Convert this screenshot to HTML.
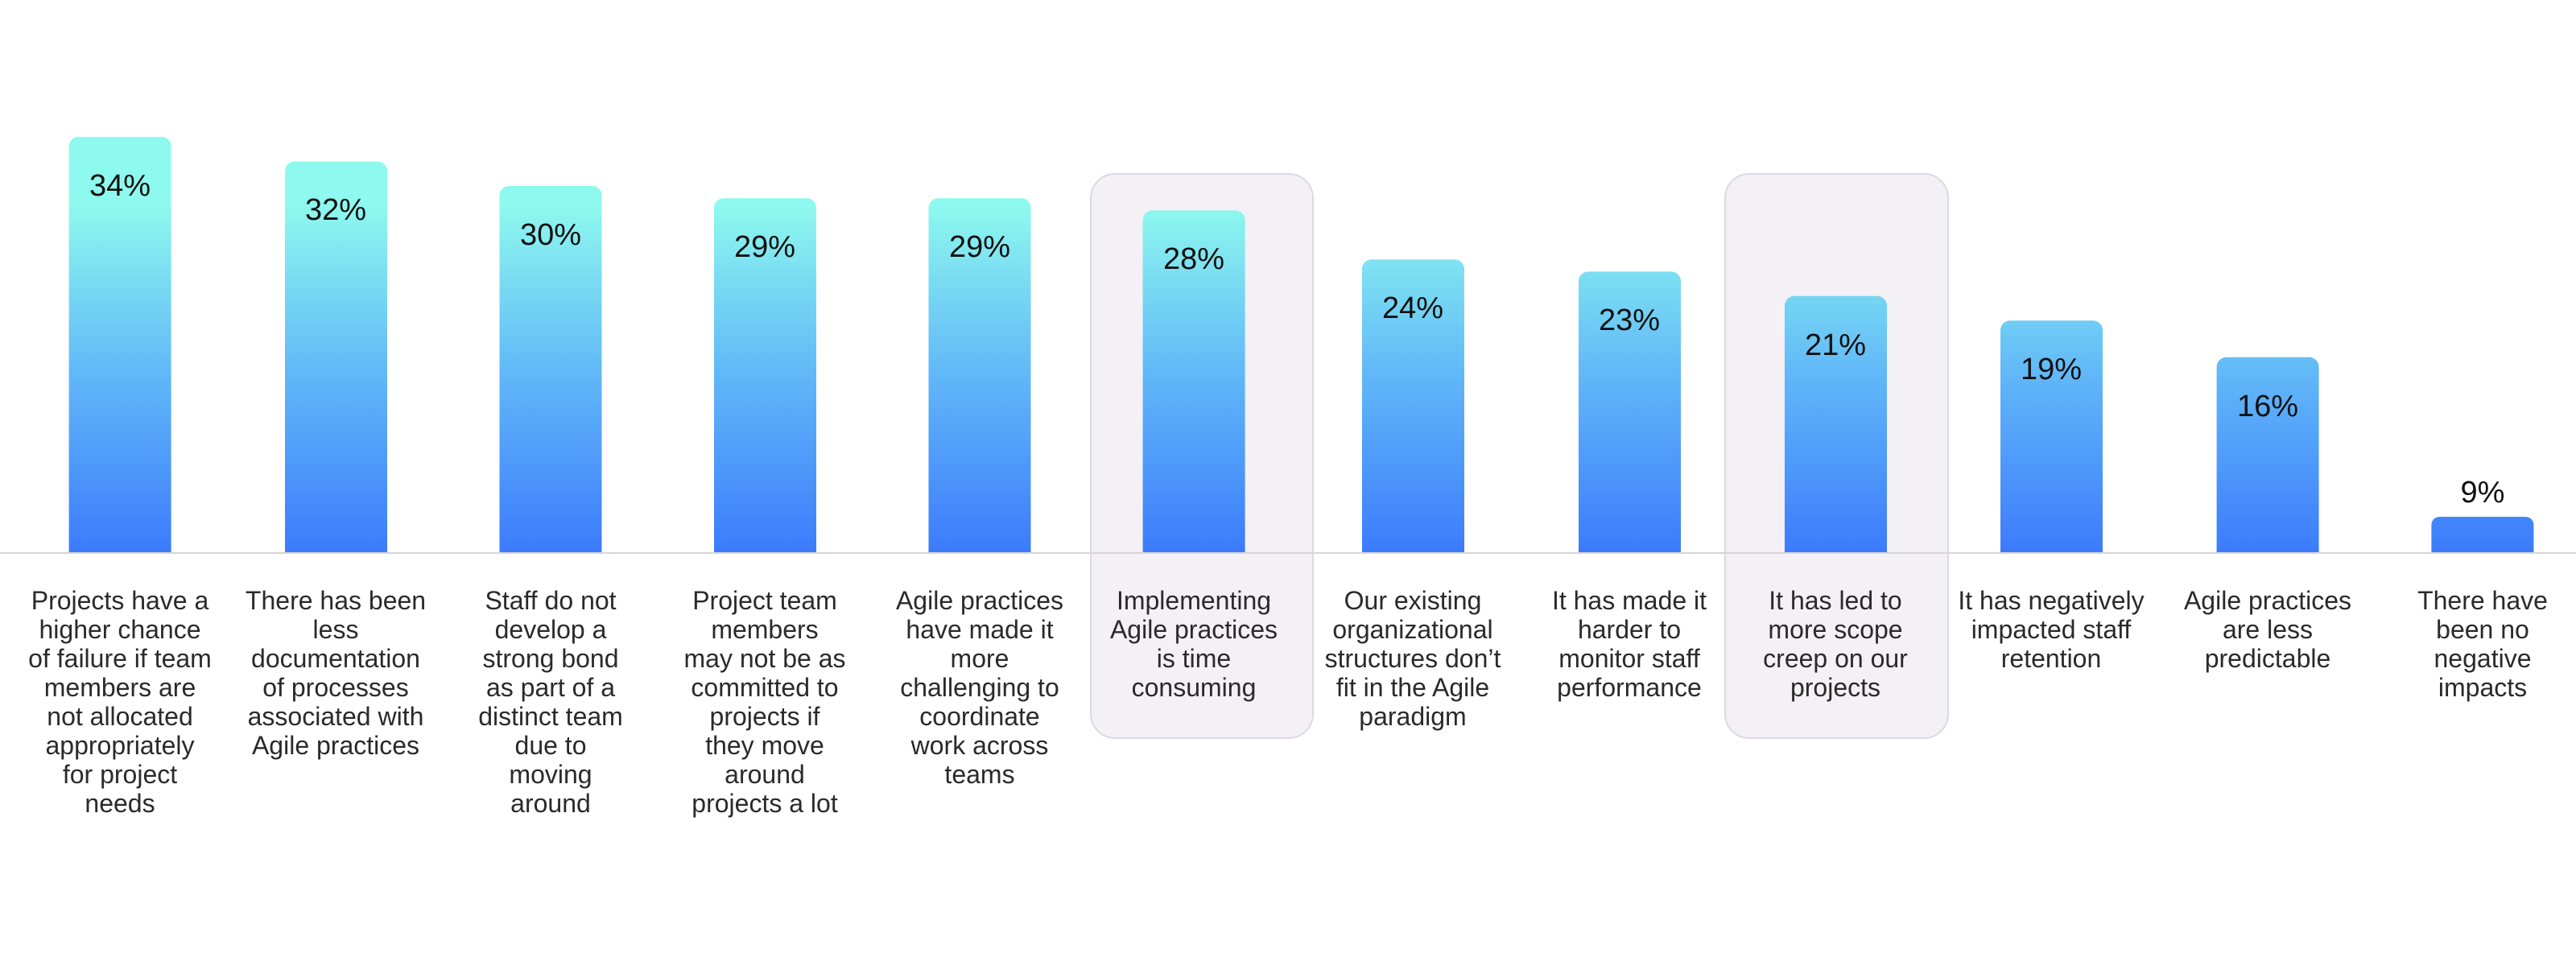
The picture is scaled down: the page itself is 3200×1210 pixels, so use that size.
<!DOCTYPE html>
<html><head><meta charset="utf-8"><style>
html,body{margin:0;padding:0;background:#fff;}
svg{display:block;}
text{font-family:"Liberation Sans",sans-serif;}
</style></head><body>
<svg width="3200" height="1210" viewBox="0 0 3200 1210" xmlns="http://www.w3.org/2000/svg">
<defs>
<linearGradient id="g" gradientUnits="userSpaceOnUse" x1="0" y1="255" x2="0" y2="686">
<stop offset="0" stop-color="#8ef9ee"/>
<stop offset="0.5" stop-color="#60b6f8"/>
<stop offset="1" stop-color="#3c7bfc"/>
</linearGradient>
</defs>
<rect x="1355" y="216" width="276" height="701" rx="30" fill="#f3f0f6" stroke="#ddd8e2" stroke-width="2"/>
<rect x="2143" y="216" width="277" height="701" rx="30" fill="#f3f0f6" stroke="#ddd8e2" stroke-width="2"/>
<line x1="0" y1="687" x2="3200" y2="687" stroke="#d6d6d6" stroke-width="2"/>
<g fill="url(#g)">
<path d="M85.6,686 V182 a12,12 0 0 1 12,-12 H200.6 a12,12 0 0 1 12,12 V686Z"/>
<path d="M354,686 V212.6 a12,12 0 0 1 12,-12 H469 a12,12 0 0 1 12,12 V686Z"/>
<path d="M620.5,686 V243 a12,12 0 0 1 12,-12 H735.5 a12,12 0 0 1 12,12 V686Z"/>
<path d="M887,686 V258.2 a12,12 0 0 1 12,-12 H1002 a12,12 0 0 1 12,12 V686Z"/>
<path d="M1153.5,686 V258.2 a12,12 0 0 1 12,-12 H1268.5 a12,12 0 0 1 12,12 V686Z"/>
<path d="M1419.6,686 V273.4 a12,12 0 0 1 12,-12 H1534.6 a12,12 0 0 1 12,12 V686Z"/>
<path d="M1692,686 V334.2 a12,12 0 0 1 12,-12 H1807 a12,12 0 0 1 12,12 V686Z"/>
<path d="M1961,686 V349.4 a12,12 0 0 1 12,-12 H2076 a12,12 0 0 1 12,12 V686Z"/>
<path d="M2217,686 V379.8 a12,12 0 0 1 12,-12 H2332 a12,12 0 0 1 12,12 V686Z"/>
<path d="M2485,686 V410.2 a12,12 0 0 1 12,-12 H2600 a12,12 0 0 1 12,12 V686Z"/>
<path d="M2753.6,686 V455.8 a12,12 0 0 1 12,-12 H2868.6 a12,12 0 0 1 12,12 V686Z"/>
<path d="M3020.4,686 V652 a10,10 0 0 1 10,-10 H3137.4 a10,10 0 0 1 10,10 V686Z"/>
</g>
<g font-size="38" fill="#111" text-anchor="middle">
<text x="149" y="243">34%</text>
<text x="417" y="273">32%</text>
<text x="684" y="304">30%</text>
<text x="950" y="319">29%</text>
<text x="1217" y="319">29%</text>
<text x="1483" y="334">28%</text>
<text x="1755" y="395">24%</text>
<text x="2024" y="410">23%</text>
<text x="2280" y="441">21%</text>
<text x="2548" y="471">19%</text>
<text x="2817" y="517">16%</text>
<text x="3084" y="624">9%</text>
</g>
<g font-size="32" fill="#2a2a2a" text-anchor="middle">
<text x="149" y="757"><tspan x="149">Projects have a</tspan><tspan x="149" dy="36">higher chance</tspan><tspan x="149" dy="36">of failure if team</tspan><tspan x="149" dy="36">members are</tspan><tspan x="149" dy="36">not allocated</tspan><tspan x="149" dy="36">appropriately</tspan><tspan x="149" dy="36">for project</tspan><tspan x="149" dy="36">needs</tspan></text>
<text x="417" y="757"><tspan x="417">There has been</tspan><tspan x="417" dy="36">less</tspan><tspan x="417" dy="36">documentation</tspan><tspan x="417" dy="36">of processes</tspan><tspan x="417" dy="36">associated with</tspan><tspan x="417" dy="36">Agile practices</tspan></text>
<text x="684" y="757"><tspan x="684">Staff do not</tspan><tspan x="684" dy="36">develop a</tspan><tspan x="684" dy="36">strong bond</tspan><tspan x="684" dy="36">as part of a</tspan><tspan x="684" dy="36">distinct team</tspan><tspan x="684" dy="36">due to</tspan><tspan x="684" dy="36">moving</tspan><tspan x="684" dy="36">around</tspan></text>
<text x="950" y="757"><tspan x="950">Project team</tspan><tspan x="950" dy="36">members</tspan><tspan x="950" dy="36">may not be as</tspan><tspan x="950" dy="36">committed to</tspan><tspan x="950" dy="36">projects if</tspan><tspan x="950" dy="36">they move</tspan><tspan x="950" dy="36">around</tspan><tspan x="950" dy="36">projects a lot</tspan></text>
<text x="1217" y="757"><tspan x="1217">Agile practices</tspan><tspan x="1217" dy="36">have made it</tspan><tspan x="1217" dy="36">more</tspan><tspan x="1217" dy="36">challenging to</tspan><tspan x="1217" dy="36">coordinate</tspan><tspan x="1217" dy="36">work across</tspan><tspan x="1217" dy="36">teams</tspan></text>
<text x="1483" y="757"><tspan x="1483">Implementing</tspan><tspan x="1483" dy="36">Agile practices</tspan><tspan x="1483" dy="36">is time</tspan><tspan x="1483" dy="36">consuming</tspan></text>
<text x="1755" y="757"><tspan x="1755">Our existing</tspan><tspan x="1755" dy="36">organizational</tspan><tspan x="1755" dy="36">structures don’t</tspan><tspan x="1755" dy="36">fit in the Agile</tspan><tspan x="1755" dy="36">paradigm</tspan></text>
<text x="2024" y="757"><tspan x="2024">It has made it</tspan><tspan x="2024" dy="36">harder to</tspan><tspan x="2024" dy="36">monitor staff</tspan><tspan x="2024" dy="36">performance</tspan></text>
<text x="2280" y="757"><tspan x="2280">It has led to</tspan><tspan x="2280" dy="36">more scope</tspan><tspan x="2280" dy="36">creep on our</tspan><tspan x="2280" dy="36">projects</tspan></text>
<text x="2548" y="757"><tspan x="2548">It has negatively</tspan><tspan x="2548" dy="36">impacted staff</tspan><tspan x="2548" dy="36">retention</tspan></text>
<text x="2817" y="757"><tspan x="2817">Agile practices</tspan><tspan x="2817" dy="36">are less</tspan><tspan x="2817" dy="36">predictable</tspan></text>
<text x="3084" y="757"><tspan x="3084">There have</tspan><tspan x="3084" dy="36">been no</tspan><tspan x="3084" dy="36">negative</tspan><tspan x="3084" dy="36">impacts</tspan></text>
</g>
</svg>
</body></html>
